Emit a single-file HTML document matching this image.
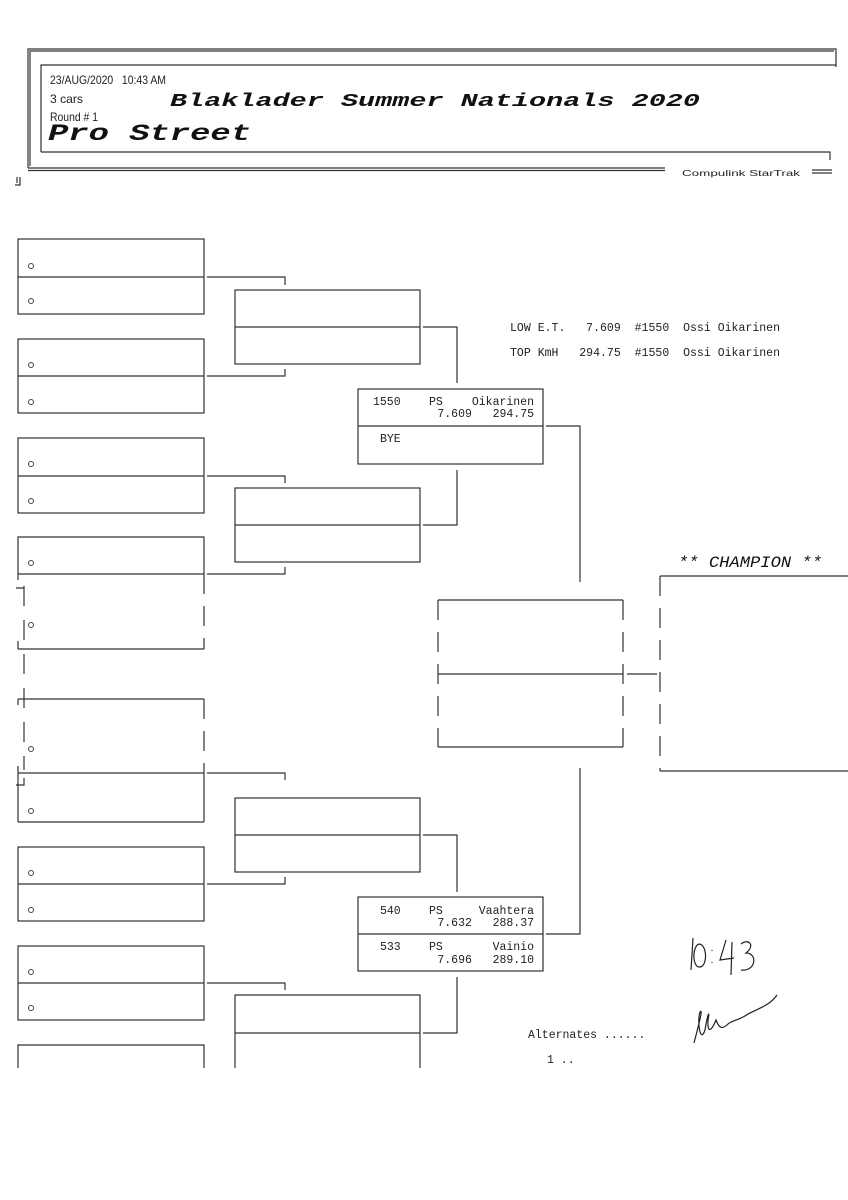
<!DOCTYPE html>
<html><head><meta charset="utf-8"><style>
html,body{margin:0;padding:0;background:#fff}
svg{display:block}
.m{font-family:"Liberation Mono",monospace;font-size:11.5px;fill:#222}
.s{font-family:"Liberation Sans",sans-serif;font-size:11px;fill:#222}
.c{font-family:"Liberation Mono",monospace;font-weight:bold;font-style:italic;fill:#111}
.n{font-family:"Liberation Sans",sans-serif;font-size:12px;fill:#222}
</style></head><body>
<svg width="848" height="1200" viewBox="0 0 848 1200" xmlns="http://www.w3.org/2000/svg">
<g stroke="#333" stroke-width="1.2" fill="none">
<path d="M28 168 V49 H836 V67"/>
<path d="M30 166 V51 H834"/>
<path d="M28 168 H665 M28 170.5 H665"/>
<path d="M41 152 V65 H836 M41 152 H830 V160"/>
<path d="M812 170 H832 M812 173 H832"/>
<path d="M15 185 H20 V177 M17 177 V183"/>
<rect x="18" y="239" width="186" height="75"/><line x1="18" y1="277" x2="204" y2="277"/>
<rect x="18" y="339" width="186" height="74"/><line x1="18" y1="376" x2="204" y2="376"/>
<rect x="18" y="438" width="186" height="75"/><line x1="18" y1="476" x2="204" y2="476"/>
<path d="M18 574 V537 H204 V574"/><line x1="18" y1="574" x2="204" y2="574"/>
<path d="M18 649 H204" />
<path d="M18 574 V580 M18 641 V649"/>
<path d="M204 574 V649" stroke-dasharray="20 12"/>
<path d="M18 699 H204 M18 773 H204 M18 822 H204 M18 773 V822 M204 773 V822"/>
<path d="M18 699 V705 M18 766 V773"/>
<path d="M204 699 V773" stroke-dasharray="20 12"/>
<path d="M24 586 V770" stroke-dasharray="20 14"/>
<path d="M16 588 H24 M16 785 H24 V778"/>
<rect x="18" y="847" width="186" height="74"/><line x1="18" y1="884" x2="204" y2="884"/>
<rect x="18" y="946" width="186" height="74"/><line x1="18" y1="983" x2="204" y2="983"/>
<path d="M18 1068 V1045 H204 V1068"/>
<path d="M207 277 H285 V285 M207 376 H285 V369"/>
<path d="M207 476 H285 V483 M207 574 H285 V567"/>
<path d="M207 773 H285 V780 M207 884 H285 V877"/>
<path d="M207 983 H285 V990"/>
<rect x="235" y="290" width="185" height="74"/><line x1="235" y1="327" x2="420" y2="327"/>
<rect x="235" y="488" width="185" height="74"/><line x1="235" y1="525" x2="420" y2="525"/>
<rect x="235" y="798" width="185" height="74"/><line x1="235" y1="835" x2="420" y2="835"/>
<path d="M235 1068 V995 H420 V1068 M235 1033 H420"/>
<path d="M423 327 H457 V383 M423 525 H457 V470"/>
<path d="M423 835 H457 V892 M423 1033 H457 V977"/>
<rect x="358" y="389" width="185" height="75"/><line x1="358" y1="426" x2="543" y2="426"/>
<rect x="358" y="897" width="185" height="74"/><line x1="358" y1="934" x2="543" y2="934"/>
<path d="M546 426 H580 V582 M546 934 H580 V768"/>
<path d="M438 600 H623 M438 674 H623 M438 747 H623"/>
<path d="M438 600 V747 M623 600 V747" stroke-dasharray="20 12"/>
<path d="M627 674 H657"/>
<path d="M660 576 H848 M660 771 H848"/>
<path d="M660 576 V771" stroke-dasharray="20 12"/>
<path d="M693 938 L691 970 M699 944 C692 946 692 968 700 967 C708 966 707 944 699 944 M712 950 v1 M712 962 v1 M726 940 L720 960 L734 958 M732 942 L731 975 M741 944 C748 938 756 945 746 953 C758 953 756 972 741 970" stroke="#222"/>
<path d="M694 1043 C700 1020 703 1008 700 1012 C697 1020 700 1045 705 1030 C708 1012 710 1010 708 1020 C707 1035 712 1030 716 1020 C719 1028 722 1030 728 1024 C733 1020 740 1020 748 1014 C760 1008 770 1005 777 995" stroke="#222"/>
</g>
<g fill="none" stroke="#444" stroke-width="1">
<circle cx="31" cy="266" r="2.5"/><circle cx="31" cy="301" r="2.5"/>
<circle cx="31" cy="365" r="2.5"/><circle cx="31" cy="402" r="2.5"/>
<circle cx="31" cy="464" r="2.5"/><circle cx="31" cy="501" r="2.5"/>
<circle cx="31" cy="563" r="2.5"/><circle cx="31" cy="625" r="2.5"/>
<circle cx="31" cy="749" r="2.5"/><circle cx="31" cy="811" r="2.5"/>
<circle cx="31" cy="873" r="2.5"/><circle cx="31" cy="910" r="2.5"/>
<circle cx="31" cy="972" r="2.5"/><circle cx="31" cy="1008" r="2.5"/>
</g>
<text x="50" y="84" class="n" xml:space="preserve" textLength="116" lengthAdjust="spacingAndGlyphs">23/AUG/2020   10:43 AM</text>
<text x="50" y="103" class="n" textLength="33" lengthAdjust="spacingAndGlyphs">3 cars</text>
<text x="50" y="121" class="n" textLength="48" lengthAdjust="spacingAndGlyphs">Round # 1</text>
<text x="170" y="106" class="c" font-size="18" textLength="530" lengthAdjust="spacingAndGlyphs">Blaklader Summer Nationals 2020</text>
<text x="48" y="140" class="c" font-size="23" textLength="203" lengthAdjust="spacingAndGlyphs">Pro Street</text>
<text x="682" y="176" class="s" style="font-size:8px" textLength="118" lengthAdjust="spacingAndGlyphs">Compulink  StarTrak</text>
<text x="510" y="331" class="m" xml:space="preserve" textLength="270">LOW E.T.   7.609  #1550  Ossi Oikarinen</text>
<text x="510" y="356" class="m" xml:space="preserve" textLength="270">TOP KmH   294.75  #1550  Ossi Oikarinen</text>
<text x="373" y="405" class="m">1550</text><text x="429" y="405" class="m">PS</text>
<text x="534" y="405" class="m" text-anchor="end">Oikarinen</text>
<text x="534" y="417" class="m" text-anchor="end" xml:space="preserve">7.609   294.75</text>
<text x="380" y="442" class="m">BYE</text>
<text x="380" y="914" class="m">540</text><text x="429" y="914" class="m">PS</text>
<text x="534" y="914" class="m" text-anchor="end">Vaahtera</text>
<text x="534" y="926" class="m" text-anchor="end" xml:space="preserve">7.632   288.37</text>
<text x="380" y="950" class="m">533</text><text x="429" y="950" class="m">PS</text>
<text x="534" y="950" class="m" text-anchor="end">Vainio</text>
<text x="534" y="963" class="m" text-anchor="end" xml:space="preserve">7.696   289.10</text>
<text x="678" y="567" class="c" font-size="16" style="font-weight:normal" textLength="144" lengthAdjust="spacingAndGlyphs">** CHAMPION **</text>
<text x="528" y="1038" class="m" xml:space="preserve">Alternates ......</text>
<text x="547" y="1063" class="m">1 ..</text>
</svg>
</body></html>
